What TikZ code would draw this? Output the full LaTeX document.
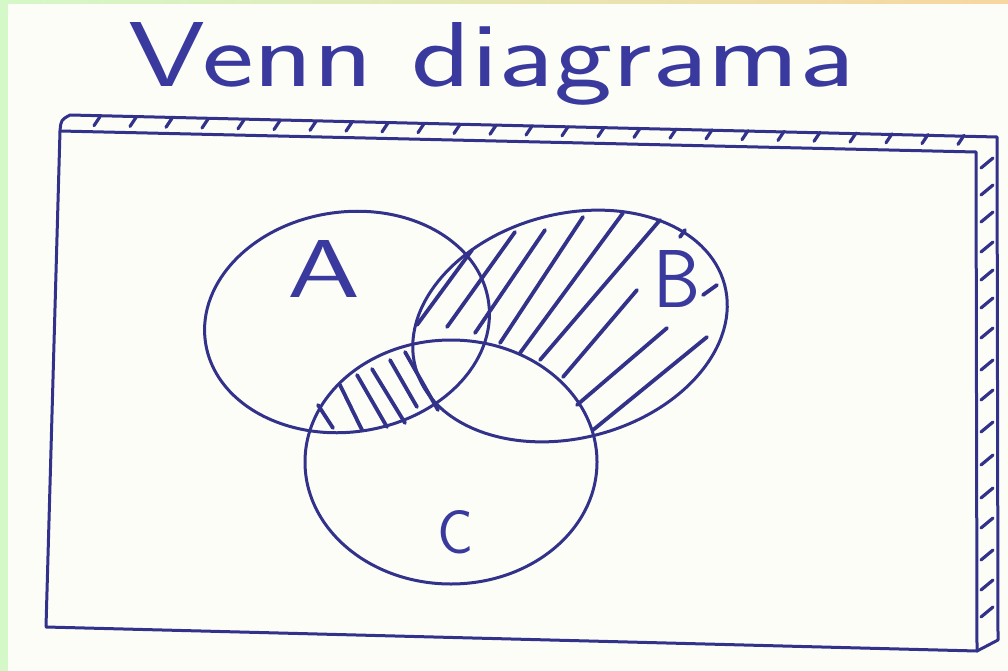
\documentclass[tikz,border=0pt]{standalone}
\usepackage{graphicx}
\definecolor{inkc}{RGB}{50,50,138}
\definecolor{inkt}{RGB}{58,58,158}
\definecolor{paper}{RGB}{253,253,248}
\definecolor{greenb}{RGB}{212,248,200}
\definecolor{peach}{RGB}{248,214,160}
\newcommand{\handfont}{\sffamily\fontsize{60}{60}\selectfont}
\begin{document}
\begin{tikzpicture}[x=1pt,y=-1pt,
  ink/.style={draw=inkc, line width=3pt, line cap=round, line join=round},
  hatch/.style={draw=inkc, line width=3.8pt, line cap=round},
  tickmark/.style={draw=inkc, line width=3.2pt, line cap=round},
  lbl/.style={inner sep=0pt, anchor=base west, text=inkt, font=\handfont}]
\useasboundingbox (0,0) rectangle (1008,671);
\fill[paper] (0,0) rectangle (1008,671);
\fill[greenb] (0,0) rectangle (8,671);
\shade[left color=greenb, right color=peach] (0,0) rectangle (1008,4);

% title
\node[lbl] (title) at (128,87) {\resizebox{727pt}{64pt}{Venn diagrama}};

% universe box (drawn as a slab)
\coordinate (btl) at (70,115);
\coordinate (btr) at (997,137);
\coordinate (bbr) at (998,640);
\coordinate (ftl) at (60,131);
\coordinate (ftr) at (976,152);
\coordinate (fbr) at (977,651);
\coordinate (fbl) at (46,627);
\draw[ink] (fbl) -- (ftl) .. controls (61,120) .. (btl) -- (btr) -- (bbr) -- (fbr) -- cycle;
\draw[ink] (ftl) -- (ftr) -- (fbr);
\foreach \x in {100,136,...,964}
  \draw[tickmark] (\x,{116+(\x-68)*0.0216}) -- (\x-6,{125+(\x-68)*0.0216});
\foreach \y in {163,190,217,247,275,303,333,365,395,427,460,493,523,555,585,612}
  \draw[tickmark] (993,\y-5) -- (981,\y+5);

% sets
\draw[ink, rotate around={8:(347,322)}] (347,322) ellipse [x radius=143, y radius=110];
\draw[ink, rotate around={15:(570,326)}] (570,326) ellipse [x radius=160, y radius=112];
\draw[ink] (451,462) ellipse [x radius=146, y radius=122];

% hatching of B without C
\draw[hatch] (417,325) -- (472,250);
\draw[hatch] (447,327) -- (515,232);
\draw[hatch] (475,333) -- (545,230);
\draw[hatch] (500,343) -- (583,217);
\draw[hatch] (520,353) -- (623,213);
\draw[hatch] (540,360) -- (660,220);
\draw[hatch] (563,377) -- (637,290);
\draw[hatch] (577,405) -- (667,328);
\draw[hatch] (593,430) -- (707,337);
\draw[hatch] (703,295) -- (717,285);
\draw[hatch] (680,237) -- (685,230);

% hatching of A and C without B
\draw[hatch] (318,405) -- (333,428);
\draw[hatch] (340,385) -- (362,430);
\draw[hatch] (357,375) -- (387,427);
\draw[hatch] (372,369) -- (405,423);
\draw[hatch] (390,360) -- (417,407);
\draw[hatch] (405,352) -- (438,410);

% labels
\node[lbl] (A) at (287,297) {\resizebox{73pt}{57pt}{A}};
\node[lbl] (B) at (653,307) {\resizebox{47pt}{57pt}{B}};
\node[lbl] (C) at (437,553) {\resizebox{36pt}{43pt}{C}};
\end{tikzpicture}
\end{document}
